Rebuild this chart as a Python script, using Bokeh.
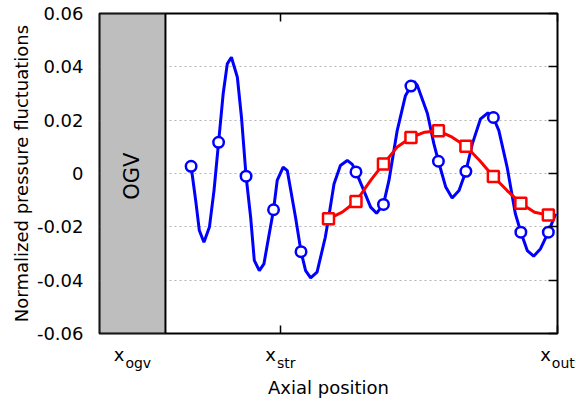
from bokeh.plotting import figure
from bokeh.models import (Range1d, FixedTicker, LinearAxis, Label,
                          CustomJSTickFormatter)
from bokeh.core.properties import value
from bokeh.embed import file_html
from bokeh.resources import INLINE
import math

# ---------------- data ----------------
# blue: traced curve (axial position, normalized pressure fluctuation)
blue_line_x = [20.0, 21.0, 21.8, 22.8, 24.0, 25.0, 26.0, 27.0, 27.9, 28.8,
               30.1, 31.0, 32.0, 33.0, 33.8, 34.9, 35.9, 36.8, 38.0, 38.8,
               40.1, 41.0, 42.8, 44.0, 45.0, 46.1, 47.5, 49.3, 50.0, 51.2,
               52.6, 54.1, 55.2, 56.0, 57.4, 59.2, 60.5, 62.0, 63.2, 65.0,
               66.8, 68.0, 68.7, 69.4, 71.6, 73.0, 74.0, 75.6, 77.0, 78.5,
               80.0, 81.4, 83.2, 84.8, 86.0, 87.2, 89.0, 90.8, 92.0, 93.4,
               94.8, 96.3, 98.0, 99.6]
blue_line_y = [0.0027, -0.0101, -0.0214, -0.0258, -0.0201, -0.0064, 0.0117,
               0.0299, 0.0411, 0.0436, 0.0361, 0.0211, -0.0010, -0.0164,
               -0.0326, -0.0364, -0.0339, -0.0251, -0.0136, -0.0026, 0.0024,
               0.0011, -0.0164, -0.0293, -0.0364, -0.0391, -0.0370, -0.0239,
               -0.0169, -0.0039, 0.0030, 0.0049, 0.0034, 0.0006, -0.0051,
               -0.0126, -0.0149, -0.0116, -0.0026, 0.0161, 0.0292, 0.0328,
               0.0345, 0.0330, 0.0225, 0.0112, 0.0046, -0.0051, -0.0092,
               -0.0064, 0.0008, 0.0111, 0.0205, 0.0227, 0.0210, 0.0161,
               0.0024, -0.0151, -0.0220, -0.0289, -0.0310, -0.0282, -0.0220,
               -0.0151]
blue_mark_x = [20, 26, 32, 38, 44, 50, 56, 62, 68, 74, 80, 86, 92, 98]
blue_mark_y = [0.0027, 0.0117, -0.0010, -0.0136, -0.0293, -0.0169, 0.0006,
               -0.0116, 0.0328, 0.0046, 0.0008, 0.0210, -0.0220, -0.0220]

# red: traced curve
red_line_x = [50.0, 53.0, 56.0, 59.2, 62.0, 65.0, 68.0, 71.0, 74.0, 77.0,
              80.0, 83.0, 86.0, 89.0, 92.0, 95.0, 98.0]
red_line_y = [-0.0170, -0.0145, -0.0105, -0.0026, 0.0036, 0.0099, 0.0135,
              0.0155, 0.0160, 0.0136, 0.0102, 0.0049, -0.0011, -0.0064,
              -0.0112, -0.0145, -0.0156]
red_mark_x = [50, 56, 62, 68, 74, 80, 86, 92, 98]
red_mark_y = [-0.0170, -0.0105, 0.0036, 0.0135, 0.0160, 0.0102, -0.0011,
              -0.0112, -0.0156]

y_ticks = [-0.06, -0.04, -0.02, 0.0, 0.02, 0.04, 0.06]
x_tick_pos = [7.2, 39.5, 100.0]
x_tick_sub = ["ogv", "str", "out"]
ogv_left, ogv_right = 0.0, 14.4

# ---------------- style ----------------
FONT = "DejaVu Sans"
PX_PER_UNIT = 4.58          # frame width 458 px for 100 units
X_W = 0.592 * 18            # width of "x" at 18px
CHAR_EM = {"o": 0.612, "g": 0.635, "v": 0.592, "s": 0.521, "t": 0.392,
           "r": 0.411, "u": 0.634}
SUB_PX = 14
SUB_BOX = 16                # approx. text-box height of a 14px label

p = figure(width=576, height=405, x_range=Range1d(0, 100),
           y_range=Range1d(-0.06, 0.06), output_backend="svg",
           toolbar_location=None, min_border_left=99, min_border_right=19,
           min_border_top=13, min_border_bottom=72)
p.background_fill_color = "white"
p.border_fill_color = "white"
p.outline_line_color = "black"
p.outline_line_width = 2

# grid
p.xgrid.visible = False
p.ygrid.ticker = FixedTicker(ticks=y_ticks)
p.ygrid.grid_line_color = "#b4b4b4"
p.ygrid.grid_line_dash = "2 3"
p.ygrid.grid_line_width = 1


def hide_labels(ax):
    ax.major_label_text_font_size = "0px"
    ax.major_label_text_color = None
    ax.major_label_standoff = 0


def no_ticks(ax):
    ax.major_tick_in = 0
    ax.major_tick_out = 0
    ax.minor_tick_in = 0
    ax.minor_tick_out = 0
    ax.axis_line_color = None


# left axis (labels only)
yax = p.yaxis[0]
yax.ticker = FixedTicker(ticks=y_ticks)
yax.formatter = CustomJSTickFormatter(code="""
const s = tick.toFixed(2);
return (s === "0.00" || s === "-0.00") ? "0" : s;
""")
no_ticks(yax)
yax.major_label_standoff = 16
yax.major_label_text_font = FONT
yax.major_label_text_font_size = "18px"
yax.major_label_text_color = "black"
yax.axis_label = "Normalized pressure fluctuations"
yax.axis_label_text_font = FONT
yax.axis_label_text_font_size = "18px"
yax.axis_label_text_font_style = "normal"
yax.axis_label_text_color = "black"
yax.axis_label_standoff = 2

# bottom axis A: inward tick marks only
xax = p.xaxis[0]
xax.ticker = FixedTicker(ticks=x_tick_pos[1:])
no_ticks(xax)
xax.major_tick_in = 8
xax.major_tick_line_width = 1.5
hide_labels(xax)

# tick-label pieces: "x" + subscript, centred together on each tick
x_centers, sub_centers = [], []
for pos, sub in zip(x_tick_pos, x_tick_sub):
    sub_w = SUB_PX * sum(CHAR_EM[c] for c in sub)
    left = -(X_W + 1 + sub_w) / 2
    x_centers.append(pos + (left + X_W / 2) / PX_PER_UNIT)
    sub_centers.append(pos + (left + X_W + 1 + sub_w / 2) / PX_PER_UNIT)

# bottom axis B: the "x"
axB = LinearAxis(ticker=FixedTicker(ticks=x_centers),
                 formatter=CustomJSTickFormatter(code='return "x";'))
no_ticks(axB)
axB.major_label_standoff = 10
axB.major_label_text_font = FONT
axB.major_label_text_font_size = "18px"
axB.major_label_text_color = "black"
p.add_layout(axB, "below")

# subscript of the last tick (lies beyond the frame edge) as a side label
p.add_layout(Label(x=sub_centers[2], y=SUB_BOX + 5, x_units="data",
                   y_units="screen", text=x_tick_sub[2], text_font=FONT,
                   text_font_size=f"{SUB_PX}px", text_align="center",
                   text_baseline="alphabetic", text_color="black"), "below")

# bottom axis C: other subscripts + axis title
axC = LinearAxis(ticker=FixedTicker(ticks=sub_centers[:2]),
                 formatter=CustomJSTickFormatter(
                     args=dict(labels=x_tick_sub[:2]),
                     code="return labels[index];"))
no_ticks(axC)
axC.major_label_standoff = -13 - SUB_BOX
axC.major_label_text_font = FONT
axC.major_label_text_font_size = f"{SUB_PX}px"
axC.major_label_text_color = "black"
axC.axis_label = "Axial position"
axC.axis_label_text_font = FONT
axC.axis_label_text_font_size = "18px"
axC.axis_label_text_font_style = "normal"
axC.axis_label_text_color = "black"
axC.axis_label_standoff = 3
p.add_layout(axC, "below")

# top axis
tax = LinearAxis(ticker=FixedTicker(ticks=x_tick_pos[1:]))
no_ticks(tax)
tax.major_tick_in = 8
tax.major_tick_line_width = 1.5
hide_labels(tax)
p.add_layout(tax, "above")

# right axis
rax = LinearAxis(ticker=FixedTicker(ticks=y_ticks))
no_ticks(rax)
rax.major_tick_in = 9
rax.major_tick_line_width = 1.5
hide_labels(rax)
p.add_layout(rax, "right")

# OGV region
p.quad(left=[ogv_left], right=[ogv_right], bottom=[-0.06], top=[0.06],
       fill_color="#bebebe", line_color="black", line_width=2)
p.text(x=[(ogv_left + ogv_right) / 2], y=[-0.001], text=["OGV"],
       angle=math.pi / 2, text_align="center", text_baseline="middle",
       text_font=value(FONT), text_font_size="21px", text_color="black")

# series
p.line(blue_line_x, blue_line_y, line_color="#0000ff", line_width=3)
p.scatter(blue_mark_x, blue_mark_y, marker="circle", size=10.5,
          line_color="#0000ff", line_width=2.5, fill_color="white")
p.line(red_line_x, red_line_y, line_color="#ff0000", line_width=3)
p.scatter(red_mark_x, red_mark_y, marker="square", size=11,
          line_color="#ff0000", line_width=2.5, fill_color="white")

open("out.html", "w").write(file_html(p, INLINE))
